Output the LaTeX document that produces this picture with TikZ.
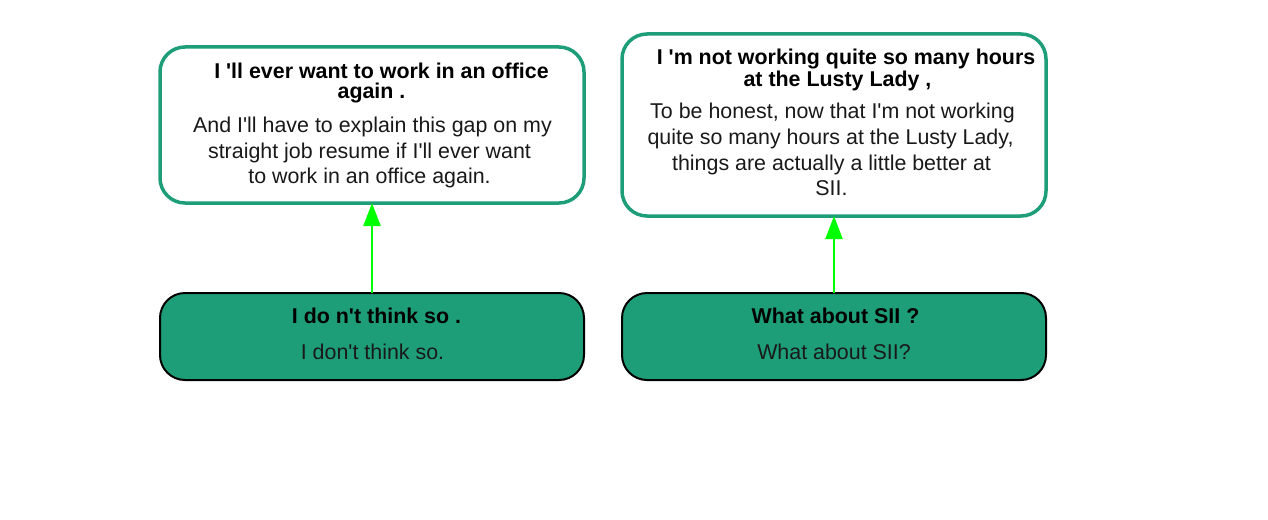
\documentclass[tikz,border=0pt]{standalone}
\usepackage{fontspec}
\setmainfont{Liberation Sans}[Ligatures=TeXOff]
\usetikzlibrary{arrows.meta}
\definecolor{teal1}{RGB}{30,158,120}
\definecolor{lime1}{RGB}{0,255,0}
\begin{document}
\begin{tikzpicture}[x=1pt,y=-1pt,
  topbox/.style={draw=teal1,line width=3.5pt,fill=white,rounded corners=25pt},
  botbox/.style={draw=black,line width=2pt,fill=teal1,rounded corners=25pt},
  bt/.style={anchor=base,inner sep=0pt,font=\fontsize{21.4pt}{24pt}\selectfont\bfseries},
  rt/.style={anchor=base,inner sep=0pt,font=\fontsize{21.4pt}{24pt}\selectfont,text=black!90},
  link/.style={draw=lime1,line width=2.2pt,-{Triangle[length=23pt,width=17pt]}}]
\useasboundingbox (0,0) rectangle (1268,519);
\fill[white] (0,0) rectangle (1268,519);
% boxes
\draw[topbox] (160,47) rectangle (584,203);
\draw[topbox] (622,34) rectangle (1046,216);
\draw[botbox] (160,293) rectangle (584,380);
\draw[botbox] (622,293) rectangle (1046,380);
\coordinate (a1) at (372,203);
\coordinate (b1) at (372,293);
\coordinate (a2) at (834,216);
\coordinate (b2) at (834,293);
% texts left top
\node[bt] (t1a) at (381.5,78) {I 'll ever want to work in an office};
\node[bt] (t1b) at (371.5,98) {again .};
\node[rt] (t1c) at (372.5,132) {And I'll have to explain this gap on my};
\node[rt] (t1d) at (369.5,158) {straight job resume if I'll ever want};
\node[rt] (t1e) at (369.5,183) {to work in an office again.};
% texts right top
\node[bt] (t2a) at (846,65) {I 'm not working quite so many hours};
\node[bt] (t2b) at (837.5,86) {at the Lusty Lady ,};
\node[rt] (t2c) at (832.5,118) {To be honest, now that I'm not working};
\node[rt] (t2d) at (830.5,144) {quite so many hours at the Lusty Lady,};
\node[rt] (t2e) at (831.5,170) {things are actually a little better at};
\node[rt] (t2f) at (831.5,195) {SII.};
% bottom texts
\node[bt] (b1a) at (376.5,323) {I do n't think so .};
\node[rt] (b1b) at (372.5,359) {I don't think so.};
\node[bt] (b2a) at (835.5,323) {What about SII ?};
\node[rt] (b2b) at (834,359) {What about SII?};
% arrows
\draw[link] (b1) -- (a1);
\draw[link] (b2) -- (a2);
\end{tikzpicture}
\end{document}
